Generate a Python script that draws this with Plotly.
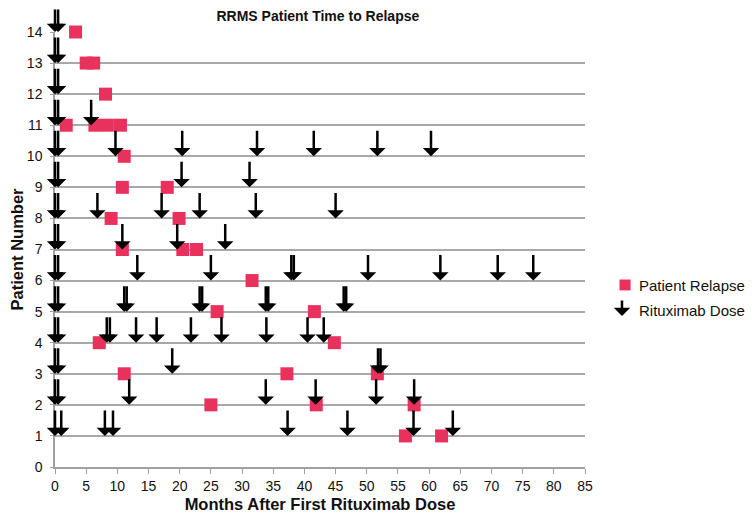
import plotly.graph_objects as go

# Relapse events: month after first rituximab dose, patient number
relapse_month = [3.3, 5.0, 6.2, 8.1, 1.8, 6.4, 8.4, 10.5, 11.1, 10.8, 18.0,
                 9.0, 19.9, 10.8, 20.5, 22.7, 31.6, 26.0, 41.6, 7.1, 44.8,
                 11.1, 37.2, 51.7, 25.0, 41.9, 57.6, 56.2, 62.0]
relapse_patient = [14, 13, 13, 12, 11, 11, 11, 11, 10, 9, 9,
                   8, 8, 7, 7, 7, 6, 5, 5, 4, 4,
                   3, 3, 3, 2, 2, 2, 1, 1]

# Rituximab doses: month, patient number
dose_month = [0, 0.5,
              0, 0.5,
              0, 0.5,
              0, 0.5, 5.8,
              0, 0.5, 9.7, 20.4, 32.4, 41.5, 51.7, 60.3,
              0, 0.5, 20.3, 31.2,
              0, 0.5, 6.8, 17.1, 23.2, 32.2, 45.0,
              0, 0.5, 10.8, 19.6, 27.3,
              0, 0.5, 13.2, 25.0, 37.9, 38.3, 50.2, 61.8, 71.0, 76.7,
              0, 0.5, 11.1, 11.5, 23.2, 23.6, 33.8, 34.2, 46.3, 46.7,
              0, 0.5, 8.3, 8.8, 13.0, 16.3, 21.8, 26.7, 33.9, 40.5, 43.1,
              0, 0.5, 18.8, 51.8, 52.2,
              0, 0.5, 11.9, 33.8, 41.8, 51.5, 57.6,
              0, 1.0, 8.0, 9.3, 37.3, 46.9, 57.5, 63.8]
dose_patient = [14, 14,
                13, 13,
                12, 12,
                11, 11, 11,
                10, 10, 10, 10, 10, 10, 10, 10,
                9, 9, 9, 9,
                8, 8, 8, 8, 8, 8, 8,
                7, 7, 7, 7, 7,
                6, 6, 6, 6, 6, 6, 6, 6, 6, 6,
                5, 5, 5, 5, 5, 5, 5, 5, 5, 5,
                4, 4, 4, 4, 4, 4, 4, 4, 4, 4, 4,
                3, 3, 3, 3, 3,
                2, 2, 2, 2, 2, 2, 2,
                1, 1, 1, 1, 1, 1, 1, 1]

RED = "#E8325D"
FONT = "Liberation Sans, Arial, sans-serif"

fig = go.Figure()
fig.add_trace(go.Scatter(
    x=relapse_month, y=relapse_patient, mode="markers", name="Patient Relapse",
    marker=dict(symbol="square", size=13, color=RED), showlegend=False,
    cliponaxis=False,
))

# dose arrows: tip on the patient's line, shaft going up
annotations = []
for m, p in zip(dose_month, dose_patient):
    annotations.append(dict(
        x=m, y=p, xref="x", yref="y", text="", showarrow=True,
        ax=0, ay=-27, arrowhead=1, arrowsize=1.1, arrowwidth=2.5,
        arrowcolor="black",
    ))

# hand-made legend
annotations += [
    dict(xref="paper", yref="paper", x=1.098, y=0.418, text="Patient Relapse",
         showarrow=False, xanchor="left", yanchor="middle",
         font=dict(size=15, color="#111", family=FONT)),
    dict(xref="paper", yref="paper", x=1.098, y=0.359, text="Rituximab Dose",
         showarrow=False, xanchor="left", yanchor="middle",
         font=dict(size=15, color="#111", family=FONT)),
    dict(xref="paper", yref="paper", x=1.0698, y=0.347, text="", showarrow=True,
         ax=0, ay=-17, arrowhead=1, arrowsize=1.1, arrowwidth=2.5,
         arrowcolor="black"),
]
fig.add_shape(type="rect", xref="paper", yref="paper",
              x0=1.0651, x1=1.086, y0=0.406, y1=0.431,
              fillcolor=RED, line=dict(width=0))

fig.update_layout(
    width=754, height=521,
    margin=dict(l=47, r=177, t=24, b=62),
    plot_bgcolor="white", paper_bgcolor="white",
    font=dict(family=FONT, size=13, color="#111"),
    title=dict(text="<b>RRMS Patient Time to Relapse</b>", x=0.411, xanchor="center",
               y=0.994, yanchor="top", pad=dict(t=0, b=0),
               font=dict(size=14, family=FONT)),
    annotations=annotations,
    xaxis=dict(
        range=[0, 85], dtick=5, tick0=0, showgrid=False, zeroline=False,
        showline=True, linecolor="#a0a0a0", linewidth=1.5,
        ticks="outside", ticklen=5, tickcolor="#a0a0a0",
        tickfont=dict(size=14), automargin=False,
        title=dict(text="<b>Months After First Rituximab Dose</b>",
                   font=dict(size=16.5), standoff=6),
    ),
    yaxis=dict(
        range=[0, 14], dtick=1, tick0=0, showgrid=True, gridcolor="#a8a8a8",
        gridwidth=1.5, zeroline=False,
        showline=True, linecolor="#a0a0a0", linewidth=1.5,
        ticks="outside", ticklen=3, tickcolor="#a0a0a0", ticklabelstandoff=5,
        tickfont=dict(size=14), automargin=False,
        title=dict(text="<b>Patient Number</b>", font=dict(size=16.5), standoff=1),
    ),
)

fig.write_html("out.html")
